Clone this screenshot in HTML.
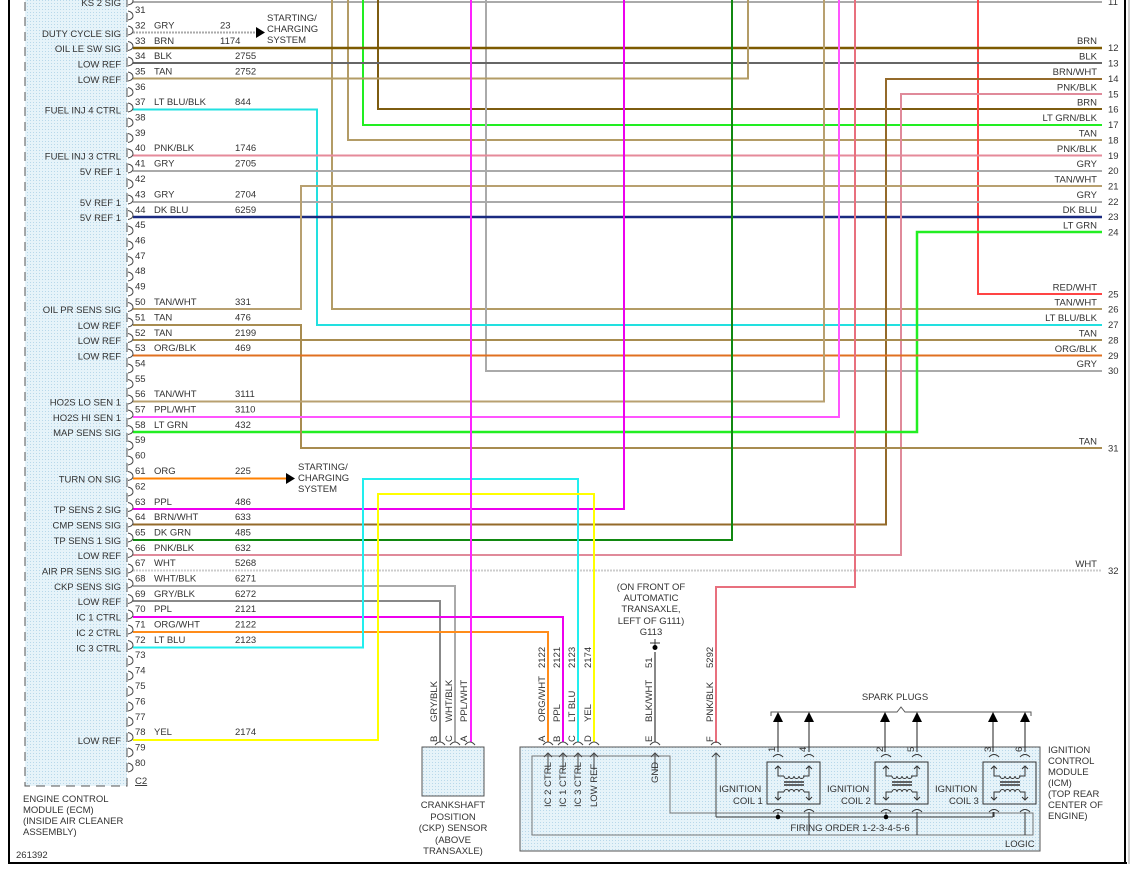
<!DOCTYPE html>
<html><head><meta charset="utf-8"><style>
html,body{margin:0;padding:0;background:#fff}
svg{display:block}
text{font-family:"Liberation Sans",Arial,sans-serif;font-size:9.5px;fill:#333}
.r{text-anchor:end}
.m{text-anchor:middle}
</style></head><body>
<svg width="1135" height="869" viewBox="0 0 1135 869" xmlns="http://www.w3.org/2000/svg">
<defs>
<pattern id="dots" width="3" height="3" patternUnits="userSpaceOnUse"><rect width="3" height="3" fill="#e6f3f9"/><rect width="1" height="1" fill="#b8d8ea"/></pattern>
</defs>
<!-- frame -->
<line x1="9" y1="0" x2="9" y2="864" stroke="#000" stroke-width="2"/>
<line x1="9" y1="863" x2="1127" y2="863" stroke="#000" stroke-width="2"/>
<line x1="1125" y1="0" x2="1125" y2="864" stroke="#000" stroke-width="2"/>
<line x1="1129" y1="0" x2="1129" y2="864" stroke="#999" stroke-width="1"/>

<!-- ECM box -->
<rect x="25" y="-5" width="102" height="791" fill="url(#dots)" stroke="#555" stroke-width="1" stroke-dasharray="9,6"/>

<g fill="none" stroke-width="2">
<!-- top verticals -->
<polyline points="133,2 1102,2" stroke="#aaa"/>
<polyline points="332,0 332,309 1102,309" stroke="#b39c66"/>
<polyline points="348,0 348,140 1102,140" stroke="#b39c66"/>
<polyline points="363,0 363,125 1102,125" stroke="#22ee22"/>
<polyline points="378,0 378,109 1102,109" stroke="#7d5c10"/>
<polyline points="486,0 486,371 1102,371" stroke="#aaa"/>
<polyline points="978,0 978,294 1102,294" stroke="#ff4444"/>
<!-- straight rows -->
<line x1="133" y1="48" x2="1102" y2="48" stroke="#7d5a00" stroke-width="2.5"/>
<line x1="133" y1="63" x2="1102" y2="63" stroke="#666"/>
<polyline points="133,78.5 748,78.5 748,0" stroke="#b39c66"/>
<polyline points="133,109.5 317,109.5 317,325 1102,325" stroke="#22e0e0"/>
<line x1="133" y1="155.5" x2="1102" y2="155.5" stroke="#e58a9a"/>
<line x1="133" y1="171" x2="1102" y2="171" stroke="#aaa"/>
<line x1="133" y1="202" x2="1102" y2="202" stroke="#aaa"/>
<line x1="133" y1="217" x2="1102" y2="217" stroke="#1a2a80" stroke-width="2.5"/>
<polyline points="1102,79 886,79 886,524.5 133,524.5" stroke="#946a2a"/>
<polyline points="1102,94 901,94 901,555 133,555" stroke="#e08a9a"/>
<polyline points="1102,186 301,186 301,309 133,309" stroke="#b8a070"/>
<polyline points="1102,232 917,232 917,432 133,432" stroke="#22ee22" stroke-width="2.5"/>
<polyline points="133,325 301,325 301,448 1102,448" stroke="#a88c50"/>
<line x1="133" y1="340" x2="1102" y2="340" stroke="#a88c50"/>
<line x1="133" y1="355.5" x2="1102" y2="355.5" stroke="#e07020"/>
<polyline points="133,401.5 824,401.5 824,0" stroke="#b8a070"/>
<polyline points="133,417 839,417 839,0" stroke="#ff55ff"/>
<polyline points="133,509 624,509 624,0" stroke="#ee00ee"/>
<polyline points="133,540 732,540 732,0" stroke="#118811"/>
<line x1="133" y1="570.5" x2="1102" y2="570.5" stroke="#ccc" stroke-dasharray="2,1"/>
<polyline points="716,743 716,587 855,587 855,0" stroke="#e8707e"/>
<polyline points="133,586 455,586 455,742" stroke="#aaa"/>
<polyline points="133,601 440,601 440,742" stroke="#888"/>
<polyline points="133,617 563,617 563,742" stroke="#ee00ee"/>
<polyline points="133,632 548,632 548,742" stroke="#ff8c1a"/>
<polyline points="133,647.5 363,647.5 363,479 578,479 578,742" stroke="#22eeee"/>
<polyline points="133,740 378,740 378,494 594,494 594,742" stroke="#ffff00"/>
<line x1="471" y1="0" x2="471" y2="742" stroke="#ff22ff"/>
<line x1="655" y1="652" x2="655" y2="742" stroke="#888"/>
<line x1="133" y1="32.5" x2="256" y2="32.5" stroke="#aaa" stroke-dasharray="2,1"/>
<line x1="133" y1="478.5" x2="286" y2="478.5" stroke="#ff8000"/>
</g>
<polygon points="256,27 265,32.5 256,38" fill="#000"/>
<polygon points="286,473 295,478.5 286,484" fill="#000"/>

<!-- ECM connector symbols -->
<g fill="none" stroke="#444" stroke-width="1">
<path d="M128,-4 q5,1 5,5 q0,3 -5,4"/>
<path d="M128,11 q5,1 5,5 q0,3 -5,4 M128,26 q5,1 5,5 q0,3 -5,4 M128,41.5 q5,1 5,5 q0,3 -5,4 M128,57 q5,1 5,5 q0,3 -5,4 M128,72 q5,1 5,5 q0,3 -5,4 M128,87.5 q5,1 5,5 q0,3 -5,4 M128,103 q5,1 5,5 q0,3 -5,4 M128,118 q5,1 5,5 q0,3 -5,4 M128,133.5 q5,1 5,5 q0,3 -5,4 M128,149 q5,1 5,5 q0,3 -5,4 M128,164 q5,1 5,5 q0,3 -5,4 M128,179.5 q5,1 5,5 q0,3 -5,4 M128,195 q5,1 5,5 q0,3 -5,4 M128,210.5 q5,1 5,5 q0,3 -5,4 M128,226 q5,1 5,5 q0,3 -5,4 M128,241 q5,1 5,5 q0,3 -5,4 M128,256.5 q5,1 5,5 q0,3 -5,4 M128,272 q5,1 5,5 q0,3 -5,4 M128,287 q5,1 5,5 q0,3 -5,4 M128,302.5 q5,1 5,5 q0,3 -5,4 M128,318 q5,1 5,5 q0,3 -5,4 M128,333.5 q5,1 5,5 q0,3 -5,4 M128,349 q5,1 5,5 q0,3 -5,4 M128,364 q5,1 5,5 q0,3 -5,4 M128,379.5 q5,1 5,5 q0,3 -5,4 M128,395 q5,1 5,5 q0,3 -5,4 M128,410 q5,1 5,5 q0,3 -5,4 M128,425.5 q5,1 5,5 q0,3 -5,4 M128,441 q5,1 5,5 q0,3 -5,4 M128,456 q5,1 5,5 q0,3 -5,4 M128,471.5 q5,1 5,5 q0,3 -5,4 M128,487 q5,1 5,5 q0,3 -5,4 M128,502.5 q5,1 5,5 q0,3 -5,4 M128,518 q5,1 5,5 q0,3 -5,4 M128,533 q5,1 5,5 q0,3 -5,4 M128,548.5 q5,1 5,5 q0,3 -5,4 M128,564 q5,1 5,5 q0,3 -5,4 M128,579 q5,1 5,5 q0,3 -5,4 M128,594.5 q5,1 5,5 q0,3 -5,4 M128,610 q5,1 5,5 q0,3 -5,4 M128,625 q5,1 5,5 q0,3 -5,4 M128,640.5 q5,1 5,5 q0,3 -5,4 M128,656 q5,1 5,5 q0,3 -5,4 M128,671 q5,1 5,5 q0,3 -5,4 M128,686.5 q5,1 5,5 q0,3 -5,4 M128,702 q5,1 5,5 q0,3 -5,4 M128,717 q5,1 5,5 q0,3 -5,4 M128,732.5 q5,1 5,5 q0,3 -5,4 M128,748 q5,1 5,5 q0,3 -5,4 M128,763 q5,1 5,5 q0,3 -5,4"/>
</g>

<!-- pin numbers -->
<g>
<text x="135" y="13">31</text><text x="135" y="28.5">32</text><text x="135" y="44">33</text><text x="135" y="59">34</text><text x="135" y="74.5">35</text><text x="135" y="90">36</text><text x="135" y="105">37</text><text x="135" y="120.5">38</text><text x="135" y="136">39</text><text x="135" y="151">40</text><text x="135" y="166.5">41</text><text x="135" y="182">42</text><text x="135" y="197.5">43</text><text x="135" y="213">44</text><text x="135" y="228">45</text><text x="135" y="243.5">46</text><text x="135" y="259">47</text><text x="135" y="274">48</text><text x="135" y="289.5">49</text><text x="135" y="305">50</text><text x="135" y="320.5">51</text><text x="135" y="336">52</text><text x="135" y="351">53</text><text x="135" y="366.5">54</text><text x="135" y="382">55</text><text x="135" y="397">56</text><text x="135" y="412.5">57</text><text x="135" y="428">58</text><text x="135" y="443">59</text><text x="135" y="458.5">60</text><text x="135" y="474">61</text><text x="135" y="489.5">62</text><text x="135" y="505">63</text><text x="135" y="520">64</text><text x="135" y="535.5">65</text><text x="135" y="551">66</text><text x="135" y="566">67</text><text x="135" y="581.5">68</text><text x="135" y="597">69</text><text x="135" y="612">70</text><text x="135" y="627.5">71</text><text x="135" y="643">72</text><text x="135" y="658">73</text><text x="135" y="673.5">74</text><text x="135" y="689">75</text><text x="135" y="704.5">76</text><text x="135" y="720">77</text><text x="135" y="735">78</text><text x="135" y="750.5">79</text><text x="135" y="766">80</text>
<text x="135" y="784" text-decoration="underline">C2</text>
</g>
<!-- wire colors / numbers -->
<g>
<text x="154" y="28.5">GRY</text><text x="220" y="28.5">23</text>
<text x="154" y="44">BRN</text><text x="220" y="44">1174</text>
<text x="154" y="59">BLK</text><text x="235" y="59">2755</text>
<text x="154" y="74.5">TAN</text><text x="235" y="74.5">2752</text>
<text x="154" y="105">LT BLU/BLK</text><text x="235" y="105">844</text>
<text x="154" y="151">PNK/BLK</text><text x="235" y="151">1746</text>
<text x="154" y="166.5">GRY</text><text x="235" y="166.5">2705</text>
<text x="154" y="197.5">GRY</text><text x="235" y="197.5">2704</text>
<text x="154" y="213">DK BLU</text><text x="235" y="213">6259</text>
<text x="154" y="305">TAN/WHT</text><text x="235" y="305">331</text>
<text x="154" y="320.5">TAN</text><text x="235" y="320.5">476</text>
<text x="154" y="336">TAN</text><text x="235" y="336">2199</text>
<text x="154" y="351">ORG/BLK</text><text x="235" y="351">469</text>
<text x="154" y="397">TAN/WHT</text><text x="235" y="397">3111</text>
<text x="154" y="412.5">PPL/WHT</text><text x="235" y="412.5">3110</text>
<text x="154" y="428">LT GRN</text><text x="235" y="428">432</text>
<text x="154" y="474">ORG</text><text x="235" y="474">225</text>
<text x="154" y="505">PPL</text><text x="235" y="505">486</text>
<text x="154" y="520">BRN/WHT</text><text x="235" y="520">633</text>
<text x="154" y="535.5">DK GRN</text><text x="235" y="535.5">485</text>
<text x="154" y="551">PNK/BLK</text><text x="235" y="551">632</text>
<text x="154" y="566">WHT</text><text x="235" y="566">5268</text>
<text x="154" y="581.5">WHT/BLK</text><text x="235" y="581.5">6271</text>
<text x="154" y="597">GRY/BLK</text><text x="235" y="597">6272</text>
<text x="154" y="612">PPL</text><text x="235" y="612">2121</text>
<text x="154" y="627.5">ORG/WHT</text><text x="235" y="627.5">2122</text>
<text x="154" y="643">LT BLU</text><text x="235" y="643">2123</text>
<text x="154" y="735">YEL</text><text x="235" y="735">2174</text>
</g>
<!-- ECM labels -->
<g class="r">
<text class="r" x="121" y="6">KS 2 SIG</text>
<text class="r" x="121" y="37">DUTY CYCLE SIG</text>
<text class="r" x="121" y="52">OIL LE SW SIG</text>
<text class="r" x="121" y="67.5">LOW REF</text>
<text class="r" x="121" y="83">LOW REF</text>
<text class="r" x="121" y="113.5">FUEL INJ 4 CTRL</text>
<text class="r" x="121" y="159.5">FUEL INJ 3 CTRL</text>
<text class="r" x="121" y="175">5V REF 1</text>
<text class="r" x="121" y="206">5V REF 1</text>
<text class="r" x="121" y="221">5V REF 1</text>
<text class="r" x="121" y="313">OIL PR SENS SIG</text>
<text class="r" x="121" y="329">LOW REF</text>
<text class="r" x="121" y="344">LOW REF</text>
<text class="r" x="121" y="359.5">LOW REF</text>
<text class="r" x="121" y="405.5">HO2S LO SEN 1</text>
<text class="r" x="121" y="421">HO2S HI SEN 1</text>
<text class="r" x="121" y="436">MAP SENS SIG</text>
<text class="r" x="121" y="482.5">TURN ON SIG</text>
<text class="r" x="121" y="513">TP SENS 2 SIG</text>
<text class="r" x="121" y="528.5">CMP SENS SIG</text>
<text class="r" x="121" y="544">TP SENS 1 SIG</text>
<text class="r" x="121" y="559">LOW REF</text>
<text class="r" x="121" y="574.5">AIR PR SENS SIG</text>
<text class="r" x="121" y="590">CKP SENS SIG</text>
<text class="r" x="121" y="605">LOW REF</text>
<text class="r" x="121" y="620.5">IC 1 CTRL</text>
<text class="r" x="121" y="636">IC 2 CTRL</text>
<text class="r" x="121" y="651.5">IC 3 CTRL</text>
<text class="r" x="121" y="744">LOW REF</text>
</g>
<text x="23" y="802">ENGINE CONTROL</text>
<text x="23" y="813">MODULE (ECM)</text>
<text x="23" y="824">(INSIDE AIR CLEANER</text>
<text x="23" y="835">ASSEMBLY)</text>
<text x="16" y="858">261392</text>
<text x="267" y="21">STARTING/</text><text x="267" y="32">CHARGING</text><text x="267" y="43">SYSTEM</text>
<text x="298" y="470">STARTING/</text><text x="298" y="481">CHARGING</text><text x="298" y="492">SYSTEM</text>

<!-- right side labels -->
<g>
<text class="r" x="1097" y="44">BRN</text><text x="1108" y="51">12</text>
<text class="r" x="1097" y="59.5">BLK</text><text x="1108" y="66.5">13</text>
<text class="r" x="1097" y="75">BRN/WHT</text><text x="1108" y="82">14</text>
<text class="r" x="1097" y="90.5">PNK/BLK</text><text x="1108" y="97.5">15</text>
<text class="r" x="1097" y="105.5">BRN</text><text x="1108" y="112.5">16</text>
<text class="r" x="1097" y="121">LT GRN/BLK</text><text x="1108" y="128">17</text>
<text class="r" x="1097" y="136.5">TAN</text><text x="1108" y="143.5">18</text>
<text class="r" x="1097" y="152">PNK/BLK</text><text x="1108" y="159">19</text>
<text class="r" x="1097" y="167">GRY</text><text x="1108" y="174">20</text>
<text class="r" x="1097" y="182.5">TAN/WHT</text><text x="1108" y="189.5">21</text>
<text class="r" x="1097" y="198">GRY</text><text x="1108" y="205">22</text>
<text class="r" x="1097" y="213">DK BLU</text><text x="1108" y="220">23</text>
<text class="r" x="1097" y="228.5">LT GRN</text><text x="1108" y="235.5">24</text>
<text class="r" x="1097" y="290.5">RED/WHT</text><text x="1108" y="297.5">25</text>
<text class="r" x="1097" y="305.5">TAN/WHT</text><text x="1108" y="312.5">26</text>
<text class="r" x="1097" y="321">LT BLU/BLK</text><text x="1108" y="328">27</text>
<text class="r" x="1097" y="336.5">TAN</text><text x="1108" y="343.5">28</text>
<text class="r" x="1097" y="352">ORG/BLK</text><text x="1108" y="359">29</text>
<text class="r" x="1097" y="367">GRY</text><text x="1108" y="374">30</text>
<text class="r" x="1097" y="444.5">TAN</text><text x="1108" y="451.5">31</text>
<text class="r" x="1097" y="567">WHT</text><text x="1108" y="574">32</text>
<text x="1108" y="5">11</text>
</g>

<!-- ground G113 -->
<g class="m">
<text class="m" x="651" y="590">(ON FRONT OF</text>
<text class="m" x="651" y="601">AUTOMATIC</text>
<text class="m" x="651" y="612">TRANSAXLE,</text>
<text class="m" x="651" y="624">LEFT OF G111)</text>
<text class="m" x="651" y="635">G113</text>
</g>
<line x1="650" y1="643" x2="660" y2="643" stroke="#333"/>
<line x1="655" y1="639" x2="655" y2="646" stroke="#333"/>
<circle cx="655" cy="647.5" r="2.5" fill="#000"/>

<!-- CKP sensor -->
<rect x="422" y="747" width="62" height="49" fill="url(#dots)" stroke="#555"/>
<g class="m">
<text class="m" x="453" y="808">CRANKSHAFT</text>
<text class="m" x="453" y="820">POSITION</text>
<text class="m" x="453" y="831">(CKP) SENSOR</text>
<text class="m" x="453" y="843">(ABOVE</text>
<text class="m" x="453" y="854">TRANSAXLE)</text>
</g>

<!-- ICM -->
<rect x="520" y="747" width="520" height="104" fill="url(#dots)" stroke="#555"/>
<polyline points="548,756 532,756 532,835 1033,835 1033,813 670,813 670,756 548,756" fill="none" stroke="#777"/>
<text class="m" x="850" y="831">FIRING ORDER 1-2-3-4-5-6</text>
<text x="1005" y="847">LOGIC</text>
<text x="1048" y="753">IGNITION</text>
<text x="1048" y="764">CONTROL</text>
<text x="1048" y="775">MODULE</text>
<text x="1048" y="786">(ICM)</text>
<text x="1048" y="797">(TOP REAR</text>
<text x="1048" y="808">CENTER OF</text>
<text x="1048" y="819">ENGINE)</text>

<!-- connector caps -->
<g fill="none" stroke="#444" stroke-width="1">
<path d="M435,745 q5,-6 10,0 M450,745 q5,-6 10,0 M465,745 q5,-6 10,0"/>
<path d="M543,745 q5,-6 10,0 M558,745 q5,-6 10,0 M573,745 q5,-6 10,0 M589,745 q5,-6 10,0 M650,745 q5,-6 10,0 M711,745 q5,-6 10,0"/>
<path d="M548,770 v-17 M544,757 l4,-4 l4,4 M563,770 v-17 M559,757 l4,-4 l4,4 M578,770 v-17 M574,757 l4,-4 l4,4 M594,770 v-17 M590,757 l4,-4 l4,4 M655,770 v-17 M651,757 l4,-4 l4,4 M716,817 v-64 M712,757 l4,-4 l4,4"/>
</g>
<g font-size="9">
<text transform="translate(437,742) rotate(-90)">B</text>
<text transform="translate(452,742) rotate(-90)">C</text>
<text transform="translate(467,742) rotate(-90)">A</text>
<text transform="translate(437,722) rotate(-90)">GRY/BLK</text>
<text transform="translate(452,722) rotate(-90)">WHT/BLK</text>
<text transform="translate(467,722) rotate(-90)">PPL/WHT</text>
<text transform="translate(545,742) rotate(-90)">A</text>
<text transform="translate(560,742) rotate(-90)">B</text>
<text transform="translate(575,742) rotate(-90)">C</text>
<text transform="translate(591,742) rotate(-90)">D</text>
<text transform="translate(652,742) rotate(-90)">E</text>
<text transform="translate(713,742) rotate(-90)">F</text>
<text transform="translate(545,722) rotate(-90)">ORG/WHT</text>
<text transform="translate(560,722) rotate(-90)">PPL</text>
<text transform="translate(575,722) rotate(-90)">LT BLU</text>
<text transform="translate(591,722) rotate(-90)">YEL</text>
<text transform="translate(652,722) rotate(-90)">BLK/WHT</text>
<text transform="translate(713,722) rotate(-90)">PNK/BLK</text>
<text transform="translate(545,668) rotate(-90)">2122</text>
<text transform="translate(560,668) rotate(-90)">2121</text>
<text transform="translate(575,668) rotate(-90)">2123</text>
<text transform="translate(591,668) rotate(-90)">2174</text>
<text transform="translate(652,668) rotate(-90)">51</text>
<text transform="translate(713,668) rotate(-90)">5292</text>
<text transform="translate(551,807) rotate(-90)">IC 2 CTRL</text>
<text transform="translate(566,807) rotate(-90)">IC 1 CTRL</text>
<text transform="translate(581,807) rotate(-90)">IC 3 CTRL</text>
<text transform="translate(597,807) rotate(-90)">LOW REF</text>
<text transform="translate(658,783) rotate(-90)">GND</text>
</g>

<!-- spark plugs -->
<text class="m" x="895" y="700">SPARK PLUGS</text>
<path d="M771,716 v-4 h126 l4,-5 l4,5 h126 v4" fill="none" stroke="#555"/>
<g stroke="#222" stroke-width="1" fill="none">
<line x1="778" y1="722" x2="778" y2="752"/><line x1="809" y1="722" x2="809" y2="752"/>
<line x1="885" y1="722" x2="885" y2="752"/><line x1="917" y1="722" x2="917" y2="752"/>
<line x1="993" y1="722" x2="993" y2="752"/><line x1="1025" y1="722" x2="1025" y2="752"/>
</g>
<g fill="#000">
<polygon points="773,722 778,712 783,722"/><polygon points="804,722 809,712 814,722"/>
<polygon points="880,722 885,712 890,722"/><polygon points="912,722 917,712 922,722"/>
<polygon points="988,722 993,712 998,722"/><polygon points="1020,722 1025,712 1030,722"/>
</g>

<!-- coils -->
<g fill="none" stroke="#333" stroke-width="1">
<g id="c1">
<rect x="767" y="762" width="53" height="42"/>
<path d="M773,757 q5,-5 10,0 M804,757 q5,-5 10,0 M773,812 q5,-5 10,0 M804,812 q5,-5 10,0"/>
<path d="M778,766 v10 h6 M809,766 v10 h-6 M775,769 l3,-3 l3,3 M806,769 l3,-3 l3,3"/>
<path d="M784,776 a2.5,2.5 0 0 0 5,0 a2.5,2.5 0 0 0 5,0 a2.5,2.5 0 0 0 5,0 a2.5,2.5 0 0 0 5,0"/>
<path d="M784,782 h20 M784,785 h20" stroke-width="1.5"/>
<path d="M784,792 a2.5,2.5 0 0 1 5,0 a2.5,2.5 0 0 1 5,0 a2.5,2.5 0 0 1 5,0 a2.5,2.5 0 0 1 5,0"/>
<path d="M784,792 h-6 v8 M804,792 h5 v8 M775,797 l3,3 l3,-3 M806,797 l3,3 l3,-3"/>
<path d="M778,812 v5 M809,812 v1"/>
</g>
<use href="#c1" x="108"/>
<use href="#c1" x="216"/>
<line x1="716" y1="817" x2="993" y2="817"/>
<line x1="993" y1="812" x2="993" y2="817"/>
<line x1="809" y1="812" x2="809" y2="835"/>
<line x1="917" y1="812" x2="917" y2="835"/>
<line x1="1025" y1="812" x2="1025" y2="835"/>
</g>
<circle cx="778" cy="817" r="2.3" fill="#000"/>
<circle cx="886" cy="817" r="2.3" fill="#000"/>
<g font-size="9">
<text transform="translate(775,752) rotate(-90)">1</text>
<text transform="translate(806,752) rotate(-90)">4</text>
<text transform="translate(883,752) rotate(-90)">2</text>
<text transform="translate(914,752) rotate(-90)">5</text>
<text transform="translate(991,752) rotate(-90)">3</text>
<text transform="translate(1022,752) rotate(-90)">6</text>
</g>
<text x="719" y="792">IGNITION</text><text x="733" y="804">COIL 1</text>
<text x="827" y="792">IGNITION</text><text x="841" y="804">COIL 2</text>
<text x="935" y="792">IGNITION</text><text x="949" y="804">COIL 3</text>
</svg>
</body></html>
